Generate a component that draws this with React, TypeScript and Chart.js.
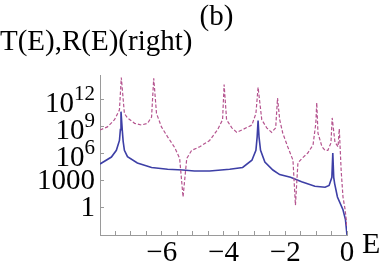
import { useEffect, useRef } from 'react';
import { Chart, registerables } from 'chart.js';

Chart.register(...registerables);

// Transmission T(E) (solid blue)
const T_ENERGY = [-8.0, -7.63, -7.47, -7.37, -7.34, -7.32, -7.28, -7.25, -7.21, -7.11, -6.79, -6.33, -5.81, -5.32, -4.94, -4.45, -3.80, -3.38, -3.08, -2.95, -2.91, -2.88, -2.85, -2.80, -2.66, -2.40, -2.18, -1.83, -1.47, -1.04, -0.71, -0.58, -0.49, -0.46, -0.43, -0.40, -0.31, -0.13, -0.05, 0.0];
const T_VALUES = [6.0e4, 3.6e5, 2.0e6, 2.5e7, 4.0e8, 4.0e10, 4.0e8, 2.0e7, 2.0e6, 4.0e5, 8.0e4, 2.5e4, 1.6e4, 1.3e4, 1.0e4, 1.0e4, 1.6e4, 2.5e4, 1.6e5, 2.0e6, 6.3e7, 4.0e9, 6.3e7, 2.0e6, 1.0e5, 1.3e4, 4.0e3, 2.0e3, 6.3e2, 2.0e2, 1.6e2, 2.5e2, 2.0e3, 1.0e6, 2.0e3, 4.0e2, 13, 0.5, 0.04, 8e-4];

// Reflection R(E) (right) (dashed purple)
const R_ENERGY = [-8.0, -7.76, -7.53, -7.37, -7.31, -7.21, -7.11, -6.88, -6.66, -6.46, -6.33, -6.26, -6.17, -6.01, -5.81, -5.58, -5.42, -5.31, -5.19, -5.03, -4.77, -4.45, -4.19, -4.03, -3.98, -3.90, -3.73, -3.57, -3.38, -3.08, -2.95, -2.88, -2.76, -2.60, -2.44, -2.31, -2.25, -2.18, -2.08, -1.92, -1.75, -1.67, -1.59, -1.46, -1.27, -1.10, -1.01, -0.98, -0.94, -0.81, -0.71, -0.62, -0.52, -0.48, -0.39, -0.29, -0.25, -0.19, -0.13, -0.06, 0.0];
const R_VALUES = [3.6e8, 8.0e8, 5.0e9, 6.3e10, 2.5e14, 2.5e10, 8.0e9, 2.0e9, 1.3e9, 2.0e9, 1.0e10, 2.0e14, 2.5e10, 8.0e8, 6.3e7, 4.0e6, 2.5e5, 13, 2.5e5, 2.0e6, 5.0e6, 2.5e7, 4.0e8, 5.0e9, 4.0e13, 5.0e9, 6.3e8, 2.0e8, 4.0e8, 1.3e9, 2.5e10, 2.0e13, 5.0e9, 6.3e8, 2.0e8, 6.3e8, 1.3e12, 5.0e9, 1.6e8, 5.0e6, 1.6e5, 1.6, 8.0e4, 2.5e5, 1.0e6, 8.0e6, 2.0e9, 4.0e11, 1.6e8, 5.0e6, 2.0e6, 2.0e6, 1.3e7, 8.0e9, 1.6e7, 5.0e6, 5.0e8, 1.3e4, 13, 0.5, 6e-3];

const X_MIN = -8;
const X_MAX = 0;
const X_STEP = 0.5;
const X_LABELED_TICKS = [-6, -4, -2, 0];

const Y_MIN = 7.8e-4;
const Y_MAX = 4.7e14;
const Y_TICKS = [1, 1e3, 1e6, 1e9, 1e12];
const Y_TICK_BASES = ['1', '1000', '10', '10', '10'];
const Y_TICK_EXPONENTS = ['', '', '6', '9', '12'];

const TITLE = '(b)';
const Y_TITLE = 'T(E),R(E)(right)';
const X_TITLE = 'E';

const SERIF = '"Liberation Serif", serif';
const AXIS_COLOR = '#9a9a9a';

function formatX(v: number): string {
  return v < 0 ? '\u2212' + Math.abs(v) : String(v);
}

const textPlugin = {
  id: 'mathTexts',
  afterDraw(chart: any) {
    const ctx = chart.ctx as CanvasRenderingContext2D;
    const area = chart.chartArea;
    const yScale = chart.scales.y;
    ctx.save();
    ctx.fillStyle = '#000';
    ctx.textBaseline = 'alphabetic';
    ctx.textAlign = 'right';
    const right = area.left - 5;
    Y_TICKS.forEach((v, i) => {
      const py = yScale.getPixelForValue(v);
      const base = Y_TICK_BASES[i];
      const sup = Y_TICK_EXPONENTS[i];
      if (sup) {
        ctx.font = `21px ${SERIF}`;
        const sw = ctx.measureText(sup).width;
        ctx.fillText(sup, right, py + 1);
        ctx.font = `29px ${SERIF}`;
        ctx.fillText(base, right - sw, py + 13);
      } else {
        ctx.font = `29px ${SERIF}`;
        ctx.fillText(base, right, py + 9);
      }
    });
    // panel label
    ctx.textAlign = 'center';
    ctx.font = `29px ${SERIF}`;
    ctx.fillText(TITLE, (area.left + area.right) / 2 - 7, area.top - 50);
    // y-axis label
    ctx.textAlign = 'left';
    ctx.font = `29px ${SERIF}`;
    ctx.fillText(Y_TITLE, area.left - 100, area.top - 25);
    // x-axis label
    ctx.font = `30px ${SERIF}`;
    ctx.fillText(X_TITLE, area.right + 15, area.bottom + 18);
    ctx.restore();
  },
};

export default function App() {
  const canvasRef = useRef<HTMLCanvasElement | null>(null);

  useEffect(() => {
    const canvas = canvasRef.current;
    if (!canvas) return;
    const chart = new Chart(canvas, {
      type: 'line',
      data: {
        datasets: [
          {
            label: 'R(E)(right)',
            data: R_ENERGY.map((e, i) => ({ x: e, y: R_VALUES[i] })),
            borderColor: '#b5548f',
            borderWidth: 1.2,
            borderDash: [3.5, 2],
            pointRadius: 0,
            fill: false,
            tension: 0,
          },
          {
            label: 'T(E)',
            data: T_ENERGY.map((e, i) => ({ x: e, y: T_VALUES[i] })),
            borderColor: '#3d3fa6',
            borderWidth: 1.6,
            pointRadius: 0,
            fill: false,
            tension: 0,
          },
        ],
      },
      options: {
        animation: false,
        responsive: false,
        devicePixelRatio: 1,
        layout: { padding: { left: 0, top: 75, right: 35, bottom: 0 } },
        plugins: {
          legend: { display: false },
          tooltip: { enabled: false },
          title: { display: false },
        },
        scales: {
          x: {
            type: 'linear',
            min: X_MIN,
            max: X_MAX,
            border: { color: AXIS_COLOR, width: 1 },
            grid: {
              drawOnChartArea: false,
              drawTicks: true,
              tickLength: -4,
              tickColor: AXIS_COLOR,
              tickWidth: 1,
            },
            ticks: {
              stepSize: X_STEP,
              autoSkip: false,
              maxRotation: 0,
              minRotation: 0,
              padding: 5,
              color: '#000',
              font: { family: SERIF, size: 29 },
              callback: (v: any) => (X_LABELED_TICKS.includes(Number(v)) ? formatX(Number(v)) : ''),
            },
            afterFit: (s: any) => {
              s.height = 37;
            },
          },
          y: {
            type: 'logarithmic',
            min: Y_MIN,
            max: Y_MAX,
            border: { color: AXIS_COLOR, width: 1 },
            grid: {
              drawOnChartArea: false,
              drawTicks: true,
              tickLength: -4,
              tickColor: AXIS_COLOR,
            },
            ticks: { display: false },
            afterBuildTicks: (s: any) => {
              s.ticks = Y_TICKS.map((v) => ({ value: v }));
            },
            afterFit: (s: any) => {
              s.width = 100;
            },
          },
        },
      } as any,
      plugins: [textPlugin],
    });
    return () => chart.destroy();
  }, []);

  return (
    <div style={{ position: 'fixed', left: 0, top: 0, width: 382, height: 272, background: '#fff' }}>
      <canvas ref={canvasRef} width={382} height={272} />
    </div>
  );
}
